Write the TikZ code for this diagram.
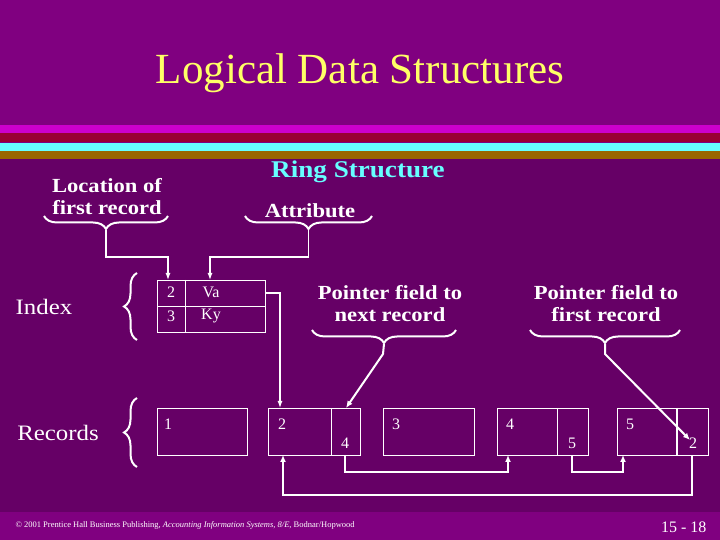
\documentclass[tikz,border=0pt]{standalone}
\usepackage{fontspec}
\setmainfont{Liberation Serif}
\newfontfamily\widefont[FakeStretch=1.13]{Liberation Serif}
\usetikzlibrary{decorations.pathreplacing,arrows.meta}
\begin{document}
\begin{tikzpicture}[x=1pt,y=1pt,
  lbl/.style={text=white,font=\widefont\fontsize{20}{22}\selectfont\bfseries,align=center,inner sep=0},
  big/.style={text=white,font=\widefont\fontsize{22}{22}\selectfont,inner sep=0},
  num/.style={text=white,font=\fontsize{16}{16}\selectfont,inner sep=0},
  box/.style={draw=white,line width=0.8pt,inner sep=0,minimum height=47pt},
  br/.style={draw=white,line width=2pt,decorate,decoration={brace,amplitude=13pt}},
  wire/.style={draw=white,line width=2pt},
  arr/.style={wire,-{Latex[length=7pt,width=6pt]}},
  thin/.style={draw=white,line width=1.2pt,-{Latex[length=7pt,width=5pt]}}]
\useasboundingbox (0,0) rectangle (720,540);
\fill[fill={rgb,255:red,128;green,0;blue,128}] (0,0) rectangle (720,540);
\fill[fill={rgb,255:red,102;green,0;blue,102}] (0,28) rectangle (720,381);
\fill[fill={rgb,255:red,204;green,0;blue,204}] (0,407) rectangle (720,415);
\fill[fill={rgb,255:red,153;green,0;blue,51}] (0,398) rectangle (720,407);
\fill[fill={rgb,255:red,102;green,255;blue,255}] (0,389) rectangle (720,397);
\fill[fill={rgb,255:red,153;green,102;blue,0}] (0,381) rectangle (720,389);
\node[text={rgb,255:red,255;green,255;blue,102},font=\fontsize{43}{43}\selectfont] (title) at (360,467) {Logical Data Structures};
\node[text={rgb,255:red,102;green,255;blue,255},font=\widefont\fontsize{24}{24}\selectfont\bfseries] (ring) at (358,368) {Ring Structure};
\node[lbl] (loc) at (107,343) {Location of\\first record};
\node[lbl] (att) at (310,329) {Attribute};
\node[lbl] (pn) at (390,236) {Pointer field to\\next record};
\node[lbl] (pf) at (606,236) {Pointer field to\\first record};
\node[big] (idx) at (44,233) {Index};
\node[big] (rec) at (58,107) {Records};
% index box
\node[box,minimum width=108pt,minimum height=52pt] (ib) at (211,234) {};
\draw[white,line width=0.8pt] (185,260) -- (185,208) (157,234) -- (265,234);
\node[num] (i2) at (171,248) {2};
\node[num] (i3) at (171,224) {3};
\node[num] (iva) at (211,248) {Va};
\node[num] (iky) at (211,224) {Ky};
% records
\node[box,minimum width=90pt] (r1) at (202,108.5) {};
\node[box,minimum width=92pt] (r2) at (314,108.5) {};
\node[box,minimum width=91pt] (r3) at (428.5,108.5) {};
\node[box,minimum width=91pt] (r4) at (542.5,108.5) {};
\node[box,minimum width=91pt] (r5) at (662.5,108.5) {};
\draw[white,line width=0.8pt] (331,132) -- (331,85) (557,132) -- (557,85);
\draw[white,line width=2pt] (677,132) -- (677,85);
\node[num] (n1) at (168,116) {1};
\node[num] (n2) at (282,116) {2};
\node[num] (n4a) at (345,97) {4};
\node[num] (n3) at (396,116) {3};
\node[num] (n4) at (510,116) {4};
\node[num] (n5a) at (572,97) {5};
\node[num] (n5) at (630,116) {5};
\node[num] (n2a) at (693,97) {2};
% braces
\draw[br] (168,324) -- coordinate[yshift=-14pt] (lt) (44,324);
\draw[br] (372,324) -- coordinate[yshift=-14pt] (at) (245,324);
\draw[br] (456,210) -- coordinate[yshift=-14pt] (pnt) (312,210);
\draw[br] (680,210) -- coordinate[yshift=-14pt] (pft) (530,210);
\draw[br] (137,200) -- (137,267);
\draw[br] (137,73) -- (137,142);
% connectors
\draw[thin] (lt) -- (lt |- 0,283) -| (168,260);
\draw[thin] (at) -- (at |- 0,283) -| (210,260);
\draw[thin] (265,247) -- (280,247) -- (280,132);
\draw[arr] (pnt) -- (383,186) -- (346,132);
\draw[arr] (pft) -- (605,186) -- (690,100);
\draw[arr] (345,85) -- (345,68) -- (508,68) -- (508,85);
\draw[arr] (572,85) -- (572,68) -- (623,68) -- (623,85);
\draw[arr] (692,85) -- (692,45) -- (283,45) -- (283,85);
\node[text=white,font=\fontsize{8.5}{8.5}\selectfont,anchor=west] (foot) at (12,15) {\textcopyright\ 2001 Prentice Hall Business Publishing, \textit{Accounting Information Systems, 8/E}, Bodnar/Hopwood};
\node[text=white,font=\fontsize{16}{16}\selectfont,anchor=east] (pg) at (710,13) {15 - 18};
\end{tikzpicture}
\end{document}
